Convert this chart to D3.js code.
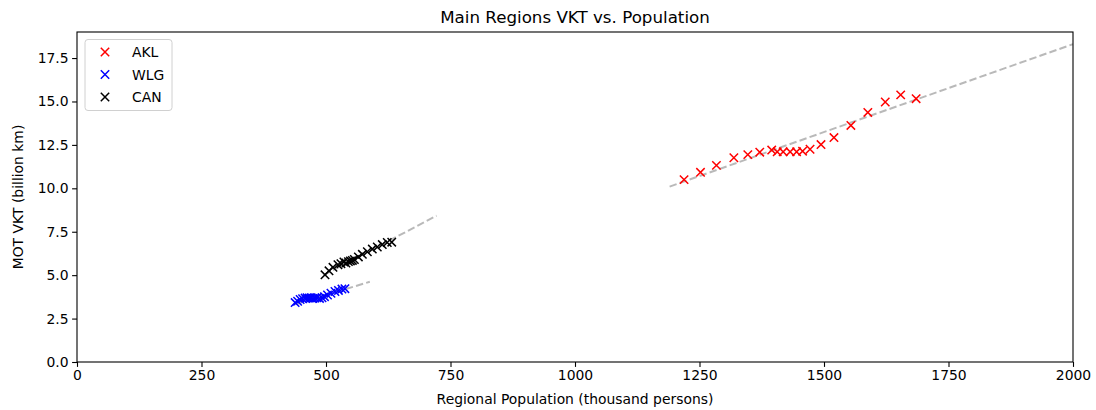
<!DOCTYPE html>
<html>
<head>
<meta charset="utf-8">
<script src="https://cdn.jsdelivr.net/npm/d3@7"></script>
<style>
  body { margin: 0; background: #fff; }
  svg { font-family: "DejaVu Sans", sans-serif; }
</style>
</head>
<body>
<div id="chart"></div>
<script>
// population (thousand persons) and VKT (billion km) per region
var aklPop = [1219, 1252, 1284, 1319, 1347, 1371, 1395, 1406, 1418, 1432, 1445, 1457, 1472, 1494, 1520, 1554, 1588, 1623, 1654, 1685];
var aklVkt = [10.5, 10.92, 11.32, 11.76, 11.94, 12.08, 12.2, 12.1, 12.1, 12.1, 12.1, 12.14, 12.25, 12.52, 12.92, 13.62, 14.37, 14.97, 15.38, 15.16];

var wlgPop = [438, 443, 448, 453, 458, 462, 466, 470, 474, 478, 482, 487, 492, 497, 503, 510, 518, 525, 532, 538];
var wlgVkt = [3.42, 3.5, 3.6, 3.64, 3.68, 3.7, 3.68, 3.7, 3.66, 3.68, 3.7, 3.66, 3.7, 3.76, 3.86, 3.96, 4.06, 4.12, 4.2, 4.22];

var canPop = [498, 506, 514, 524, 530, 536, 540, 545, 549, 553, 557, 565, 573, 583, 593, 603, 613, 623, 632];
var canVkt = [5.02, 5.25, 5.45, 5.6, 5.66, 5.76, 5.7, 5.78, 5.82, 5.85, 5.9, 6.05, 6.2, 6.35, 6.5, 6.62, 6.76, 6.88, 6.9];

// trend lines: [start, end] in data units
var aklTrendPop = [1190, 2000], aklTrendVkt = [10.1, 18.3];
var wlgTrendPop = [438, 588], wlgTrendVkt = [3.32, 4.62];
var canTrendPop = [495, 722], canTrendVkt = [5.0, 8.42];

var regions = ["AKL", "WLG", "CAN"];
var colors = ["red", "blue", "black"];

var xTicks = [0, 250, 500, 750, 1000, 1250, 1500, 1750, 2000];
var yTicks = [0, 2.5, 5, 7.5, 10, 12.5, 15, 17.5];

var width = 1096, height = 410;
var margin = {top: 32, right: 23, bottom: 48, left: 77};

var svg = d3.select("#chart").append("svg")
    .attr("width", width).attr("height", height);

var x = d3.scaleLinear().domain([0, 2000]).range([margin.left, width - margin.right]);
var y = d3.scaleLinear().domain([0, 19]).range([height - margin.bottom, margin.top]);

svg.append("defs").append("clipPath").attr("id", "clip")
  .append("rect")
    .attr("x", margin.left).attr("y", margin.top)
    .attr("width", width - margin.left - margin.right)
    .attr("height", height - margin.top - margin.bottom);

var series = [
  {pop: aklPop, vkt: aklVkt, tp: aklTrendPop, tv: aklTrendVkt},
  {pop: wlgPop, vkt: wlgVkt, tp: wlgTrendPop, tv: wlgTrendVkt},
  {pop: canPop, vkt: canVkt, tp: canTrendPop, tv: canTrendVkt}
];

var plot = svg.append("g").attr("clip-path", "url(#clip)");

var line = d3.line().x(function(d) { return x(d[0]); }).y(function(d) { return y(d[1]); });

series.forEach(function(s) {
  plot.append("path")
    .attr("d", line(d3.zip(s.tp, s.tv)))
    .attr("fill", "none")
    .attr("stroke", "#808080")
    .attr("stroke-opacity", 0.55)
    .attr("stroke-width", 2)
    .attr("stroke-dasharray", "7.4,3.2");
});

var r = 4.2;
function cross(g, cx, cy, col) {
  g.append("path")
    .attr("d", "M" + (cx - r) + "," + (cy - r) + "L" + (cx + r) + "," + (cy + r) +
               "M" + (cx - r) + "," + (cy + r) + "L" + (cx + r) + "," + (cy - r))
    .attr("stroke", col)
    .attr("stroke-width", 1.5)
    .attr("fill", "none");
}

series.forEach(function(s, i) {
  s.pop.forEach(function(p, j) {
    cross(plot, x(p), y(s.vkt[j]), colors[i]);
  });
});

// axes
var xAxis = svg.append("g")
    .attr("transform", "translate(0," + (height - margin.bottom) + ")")
    .call(d3.axisBottom(x).tickValues(xTicks).tickFormat(d3.format("d")).tickSize(4.9).tickPadding(3.5));
var yAxis = svg.append("g")
    .attr("transform", "translate(" + margin.left + ",0)")
    .call(d3.axisLeft(y).tickValues(yTicks).tickFormat(d3.format(".1f")).tickSize(4.9).tickPadding(3.5));

[xAxis, yAxis].forEach(function(a) {
  a.selectAll("text").attr("font-size", "13.9px").attr("fill", "#000")
    .attr("font-family", "DejaVu Sans, sans-serif");
  a.selectAll("line").attr("stroke", "#000").attr("stroke-width", 1.1);
  a.select(".domain").remove();
});

svg.append("rect")
    .attr("x", margin.left).attr("y", margin.top)
    .attr("width", width - margin.left - margin.right)
    .attr("height", height - margin.top - margin.bottom)
    .attr("fill", "none").attr("stroke", "#000").attr("stroke-width", 1.1);

// titles
svg.append("text")
    .attr("x", (margin.left + width - margin.right) / 2).attr("y", 23)
    .attr("text-anchor", "middle").attr("font-size", "16.7px")
    .text("Main Regions VKT vs. Population");

svg.append("text")
    .attr("x", (margin.left + width - margin.right) / 2).attr("y", 404)
    .attr("text-anchor", "middle").attr("font-size", "13.9px")
    .text("Regional Population (thousand persons)");

svg.append("text")
    .attr("transform", "translate(23," + ((margin.top + height - margin.bottom) / 2) + ") rotate(-90)")
    .attr("text-anchor", "middle").attr("font-size", "13.9px")
    .text("MOT VKT (billion km)");

// legend
var leg = svg.append("g");
leg.append("rect")
    .attr("x", 85).attr("y", 39.5).attr("width", 87).attr("height", 71)
    .attr("rx", 3).attr("fill", "#fff").attr("fill-opacity", 0.8)
    .attr("stroke", "#d0d0d0").attr("stroke-width", 1);
regions.forEach(function(name, i) {
  var ly = 52 + i * 22.5;
  cross(leg, 105, ly, colors[i]);
  leg.append("text")
    .attr("x", 132).attr("y", ly + 5)
    .attr("font-size", "13.9px")
    .text(name);
});
</script>
</body>
</html>
